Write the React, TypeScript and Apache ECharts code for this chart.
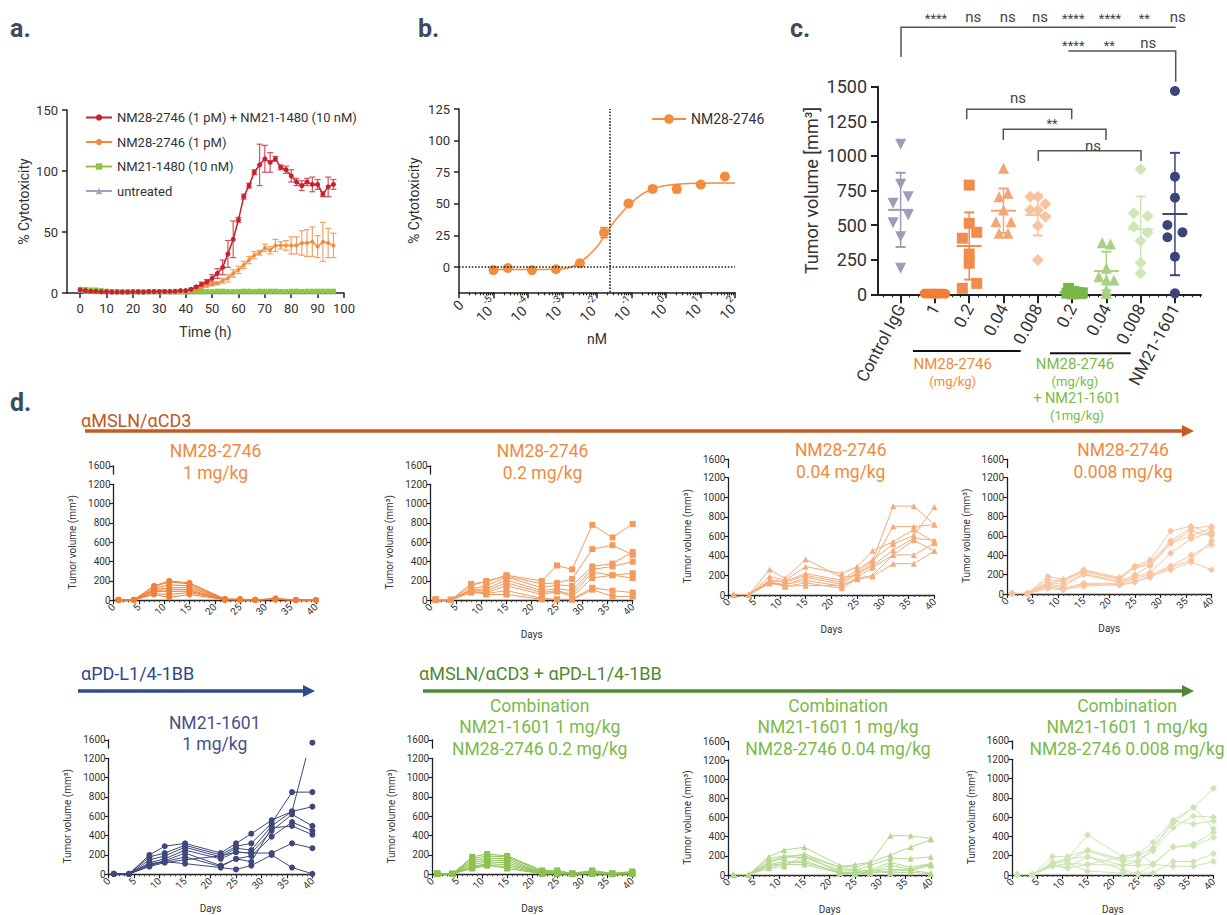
import React, { useEffect, useRef } from "react";
import * as echarts from "echarts";

const FONT = "Roboto, 'Noto Sans', sans-serif";
const INK = "#333333";

// ---------------- a. cytotoxicity time course ----------------
const timeH = [0,2,4,6,8,10,12,14,16,18,20,22,24,26,28,30,32,34,36,38,40,42,44,46,48,50,52,54,56,58,60,62,64,66,68,70,72,74,76,78,80,82,84,86,88,90,92,94,96];
const timeTicks = [0,10,20,30,40,50,60,70,80,90,100];
const comboCyto = [2.5,2,1.5,1.5,1,1,0.8,0.8,0.8,0.8,1,1,0.8,1.2,1.2,1.2,1.3,1.3,1.5,2,2,3,5,7,9,12,16,21,32,44,60,79,88,99,105,110,107,110,103,101,96,91,88,91,89,89,81,87,89];
const comboErr = [0,0,0,0,0,0,0,0,0,0,0,0,0,0,0,0,0,0,0,0,0,1,1,2,2,3,4,6,11,15,2,2,2,2,17,11,8,2,2,3,5,3,4,3,6,4,2,8,4];
const nm28Cyto = [2,1.5,1.2,1,1,1,0.8,0.8,0.8,0.8,1,1,1,1,1,1,1.2,1.2,1.2,1.5,1.5,2,3,4,6,7,8,10,12,16,19,23,27,31,33,37,35,39,39,39,39,39,41,41,42,38,42,41,39];
const nm28Err = [0,0,0,0,0,0,0,0,0,0,0,0,0,0,0,0,0,0,0,0,0,0,1,1,1,1,1,2,3,3,3,3,3,3,2,3,3,5,3,4,7,7,10,11,12,9,16,12,10];
const nm21Cyto = [3,3,2.5,2.5,2,1.5,1.2,1.2,1,1,1,1,1,1,1,1,1,1,1,1,1,1,1.2,1.2,1.2,1.2,1.5,1.5,1.2,1.2,1.2,1.5,1.5,1.2,1.5,1.5,1.5,1.5,1.2,1.2,1.5,1.5,1.2,1.5,1.5,1.5,1.5,1.5,1.5];
const untreatedCyto = [2,1.5,1.2,1,1,0.8,0.8,0.8,0.8,0.8,0.8,0.8,0.8,0.8,0.8,0.8,0.8,0.8,0.8,0.8,0.8,0.8,0.8,0.8,0.8,0.8,0.8,0.8,0.8,0.8,0.8,0.8,0.8,0.8,0.8,0.8,0.8,0.8,0.8,0.8,0.8,0.8,0.8,0.8,0.8,0.8,0.8,0.8,0.8];
const aNames = ["NM28-2746 (1 pM) + NM21-1480 (10 nM)", "NM28-2746 (1 pM)", "NM21-1480 (10 nM)", "untreated"];

// ---------------- b. dose response ----------------
const doseNM = [1.0e-5, 2.6e-5, 1.3e-4, 6.5e-4, 3.2e-3, 1.6e-2, 8.2e-2, 0.41, 2.05, 10.2, 51];
const doseCyto = [-2.4, -0.8, -2.4, -1.8, 2.9, 27.2, 50.2, 61.8, 61.8, 65.3, 71.6];
const doseErr = [1.5, 0.5, 0.5, 1, 2, 4, 1, 2.5, 3, 1, 0.5];
const fitLogNM = [-5,-4.5,-4,-3.5,-3,-2.75,-2.5,-2.25,-2,-1.75,-1.5,-1.25,-1,-0.75,-0.5,-0.25,0,0.5,1,1.5,2];
const fitCyto = [-2,-2,-2,-1.9,-1.5,0,3.5,9,16,26,36,44,51,56.5,60.5,63,64.5,65.8,66.3,66.5,66.5];
const ec50LogNM = -1.63;
const bDecades = [-6,-5,-4,-3,-2,-1,0,1,2];
const bYTicks = [0,25,50,75,100,125];

// ---------------- c. tumour volume scatter ----------------
const cCategories = ["Control IgG","1","0.2","0.04","0.008","0.2","0.04","0.008","NM21-1601"];
const cValues = [
  [1084, 795, 705, 658, 573, 517, 416, 188],
  [6, 5, 5, 4, 5, 6, 4, 5],
  [789, 513, 448, 405, 291, 224, 79, 43],
  [910, 730, 705, 609, 525, 525, 441, 441],
  [705, 705, 652, 609, 609, 561, 496, 248],
  [43, 20, 12, 10, 8, 6, 5, 3],
  [373, 363, 188, 127, 103, 103, 31, 5],
  [903, 585, 566, 488, 445, 387, 228, 152],
  [1469, 850, 698, 501, 448, 412, 272, 7],
];
const cJitter = [
  [0, 0, 0.22, -0.22, 0.22, -0.22, 0, 0],
  [-0.3, -0.2, -0.1, 0, 0.1, 0.2, 0.3, 0],
  [0, 0, 0.22, -0.2, 0, 0, 0.22, -0.2],
  [0, 0.13, -0.13, 0, -0.22, 0.22, -0.13, 0.13],
  [-0.22, 0, 0.22, -0.22, 0, 0.22, 0, 0],
  [-0.1, 0.05, 0.2, 0.3, -0.15, 0.1, 0.25, 0],
  [-0.12, 0.12, 0, -0.22, 0, 0.22, 0, 0],
  [0, -0.2, 0.2, -0.2, 0.2, 0, 0, 0],
  [0, 0, 0, -0.22, 0.22, -0.22, 0, 0],
];
const cMeans = [610, 5, 349, 604, 573, 15, 168, 470, 580];
const cSDs = [268, 3, 243, 161, 148, 14, 140, 237, 442];
const cColors = ["#9d9cb9", "#f07f35", "#f28c4d", "#f4a574", "#f8c4a0", "#7ab648", "#a9d184", "#cfe6b6", "#3c4579"];
const cSymbols = ["triangle", "circle", "rect", "triangle", "diamond", "rect", "triangle", "diamond", "circle"];

// ---------------- d. individual tumour growth ----------------
const days = [1, 4, 8, 11, 15, 22, 25, 28, 32, 36, 40];
const nm28_1 = [
  [5,5,150,200,180,15,10,5,20,5,3],
  [3,5,140,190,170,10,12,3,15,3,2],
  [5,3,120,160,150,8,8,5,10,3,3],
  [4,4,110,130,130,10,5,3,10,2,2],
  [5,5,100,110,110,5,8,5,12,3,3],
  [3,3,90,90,95,5,5,3,8,2,2],
  [5,4,70,60,80,8,6,4,10,3,3],
  [4,5,60,30,60,6,5,3,12,2,3],
];
const nm28_02 = [
  [10,5,170,190,260,200,360,320,780,650,790],
  [8,5,150,200,250,170,180,220,530,570,470],
  [5,3,120,150,240,130,160,150,350,380,500],
  [5,5,110,120,210,100,120,100,320,350,400],
  [5,3,100,100,180,80,100,60,290,260,280],
  [4,4,90,80,150,60,90,40,230,260,230],
  [5,5,80,70,100,20,10,10,130,100,80],
  [4,3,90,60,60,10,10,5,110,40,40],
];
const nm28_004 = [
  [5,3,150,130,200,130,230,350,910,910,720],
  [3,5,260,170,365,180,200,330,700,700,720],
  [4,3,190,150,290,220,290,453,545,670,540],
  [5,4,150,140,220,150,260,360,520,610,900],
  [3,3,135,100,180,110,220,300,460,580,560],
  [4,4,120,110,150,90,180,280,410,560,450],
  [5,3,140,85,125,68,170,200,410,410,530],
  [3,5,120,90,95,100,160,190,320,320,450],
];
const nm28_0008 = [
  [10,5,180,150,250,170,290,350,650,700,620],
  [5,8,150,130,230,150,280,320,550,680,700],
  [5,5,120,100,210,130,200,290,520,600,680],
  [4,5,100,80,200,120,180,220,420,570,640],
  [5,4,90,60,110,110,160,200,290,400,510],
  [4,5,70,50,80,100,130,170,280,350,550],
  [5,3,60,40,100,90,120,190,250,330,250],
  [3,4,110,145,240,160,270,300,530,650,600],
];
const nm21_1 = [
  [5,5,200,290,320,220,320,420,560,650,1460],
  [3,4,180,220,300,200,290,320,530,850,850],
  [5,3,150,190,280,180,270,250,500,650,700],
  [4,5,120,160,250,160,230,220,450,620,500],
  [5,4,100,140,220,90,160,190,390,540,450],
  [3,5,90,130,180,80,160,130,480,500,410],
  [4,3,80,120,150,190,230,220,220,320,270],
  [5,4,110,130,110,70,50,90,200,70,5],
];
const combo_02 = [
  [10,5,180,210,190,40,40,10,40,10,30],
  [8,5,160,190,180,30,30,8,30,8,20],
  [5,3,140,170,160,20,20,5,20,5,15],
  [5,4,120,150,140,15,15,5,15,5,10],
  [4,3,100,130,120,10,10,3,10,3,8],
  [3,3,80,110,100,8,8,3,8,3,5],
  [5,5,60,90,80,5,5,2,5,2,5],
  [4,4,70,100,60,5,5,2,5,2,3],
];
const combo_004 = [
  [5,3,130,180,220,80,110,130,410,410,380],
  [4,5,190,260,290,100,80,130,210,290,370],
  [5,4,170,200,200,80,50,100,170,170,190],
  [3,3,140,190,180,50,50,50,130,80,120],
  [5,4,110,140,130,30,20,30,100,60,110],
  [4,5,90,110,110,20,10,20,40,50,20],
  [3,3,70,90,200,30,30,50,20,30,10],
  [5,4,100,120,150,20,20,40,60,50,100],
];
const combo_0008 = [
  [5,5,130,170,415,190,220,340,570,700,900],
  [4,3,190,190,260,160,210,280,540,700,480],
  [5,5,110,150,250,140,150,250,490,610,600],
  [3,4,120,170,190,100,140,280,560,530,560],
  [5,3,90,120,110,190,220,120,290,320,440],
  [4,5,100,70,110,100,100,110,290,300,390],
  [3,4,90,120,40,20,20,20,140,140,220],
  [5,5,100,80,190,50,10,110,90,90,140],
];

function errBars(color: string, cap: number, lw: number) {
  return (_p: any, api: any) => {
    const x = api.value(0), y = api.value(1), e = api.value(2);
    if (!e) return null;
    const t = api.coord([x, y + e]);
    const b = api.coord([x, y - e]);
    const st = { stroke: color, lineWidth: lw };
    return {
      type: "group",
      children: [
        { type: "line", shape: { x1: t[0], y1: t[1], x2: b[0], y2: b[1] }, style: st },
        { type: "line", shape: { x1: t[0] - cap, y1: t[1], x2: t[0] + cap, y2: t[1] }, style: st },
        { type: "line", shape: { x1: b[0] - cap, y1: b[1], x2: b[0] + cap, y2: b[1] }, style: st },
      ],
    };
  };
}

function txt(text: string, x: number, y: number, size: number, color: string, align = "center", weight = "normal") {
  return {
    type: "text", x, y, silent: true, z: 100,
    style: { text, fill: color, font: `${weight} ${size}px ${FONT}`, textAlign: align, textVerticalAlign: "middle" },
  };
}
function pl(points: number[][], color: string, lw: number) {
  return { type: "polyline", silent: true, z: 100, shape: { points }, style: { stroke: color, lineWidth: lw, fill: "none" } };
}
const plain = (v: number) => String(v);

function buildOption() {
  const grid: any[] = [], xAxis: any[] = [], yAxis: any[] = [], series: any[] = [], graphic: any[] = [];
  const add = (g: any, x: any, y: any) => {
    const gi = grid.push(g) - 1;
    x.gridIndex = gi; y.gridIndex = gi;
    const xi = xAxis.push(x) - 1;
    const yi = yAxis.push(y) - 1;
    return { gi, xi, yi };
  };
  const lab = (size: number, extra: any = {}) => ({ fontSize: size, color: INK, fontFamily: FONT, ...extra });
  const axLine = (w: number) => ({ show: true, onZero: false, lineStyle: { color: "#222", width: w } });

  // ---------- a ----------
  const A = add(
    { left: 67, top: 110, width: 277, height: 183 },
    {
      type: "value", min: -5, max: 100, axisLine: axLine(1.5),
      axisTick: { customValues: timeTicks, length: 5, lineStyle: { color: "#222", width: 1.5 } },
      axisLabel: { customValues: timeTicks, ...lab(13), margin: 9 },
      splitLine: { show: false },
      name: "Time (h)", nameLocation: "middle", nameGap: 32, nameTextStyle: lab(14),
    },
    {
      type: "value", min: 0, max: 150, interval: 50, axisLine: axLine(1.5),
      axisTick: { show: true, length: 5, lineStyle: { color: "#222", width: 1.5 } },
      axisLabel: { ...lab(13), margin: 9 }, splitLine: { show: false },
      name: "% Cytotoxicity", nameLocation: "middle", nameGap: 36, nameTextStyle: lab(14),
    }
  );
  const aSets = [
    { name: aNames[3], data: untreatedCyto, color: "#a49fc4", symbol: "triangle", size: 5 },
    { name: aNames[2], data: nm21Cyto, color: "#8dc63f", symbol: "rect", size: 5 },
    { name: aNames[1], data: nm28Cyto, color: "#f28c3f", symbol: "circle", size: 4, err: nm28Err, errColor: "#f6a066" },
    { name: aNames[0], data: comboCyto, color: "#c8202f", symbol: "circle", size: 5, err: comboErr, errColor: "#d6505c" },
  ];
  aSets.forEach((s: any) => {
    if (s.err) {
      series.push({
        type: "custom", xAxisIndex: A.xi, yAxisIndex: A.yi, silent: true, z: 2,
        renderItem: errBars(s.errColor, 3, 1.2),
        data: timeH.map((t, i) => [t, s.data[i], s.err[i]]),
      });
    }
    series.push({
      type: "line", name: s.name, xAxisIndex: A.xi, yAxisIndex: A.yi,
      data: timeH.map((t, i) => [t, s.data[i]]),
      symbol: s.symbol, symbolSize: s.size, showSymbol: true, z: 3,
      lineStyle: { color: s.color, width: 1.5 }, itemStyle: { color: s.color },
    });
  });

  // ---------- b ----------
  const B = add(
    { left: 459, top: 109, width: 276, height: 183.3 },
    {
      type: "value", min: -6, max: 2, interval: 1, axisLine: axLine(1.5), position: "bottom",
      axisTick: { length: 6, lineStyle: { color: "#222", width: 1.5 } },
      axisLabel: {
        rotate: 45, margin: 8, color: INK, fontFamily: FONT,
        formatter: (v: number) => (v === bDecades[0] ? "{b|0}" : `{b|10}{s|${v}}`),
        rich: {
          b: { fontSize: 14, color: INK, fontFamily: FONT, lineHeight: 20, verticalAlign: "bottom" },
          s: { fontSize: 10, color: INK, fontFamily: FONT, lineHeight: 20, verticalAlign: "top" },
        },
      },
      splitLine: { show: false },
      name: "nM", nameLocation: "middle", nameGap: 40, nameTextStyle: lab(14),
    },
    {
      type: "value", min: -20, max: 125, axisLine: axLine(1.5),
      axisTick: { customValues: bYTicks, length: 5, lineStyle: { color: "#222", width: 1.5 } },
      axisLabel: { customValues: bYTicks, ...lab(13), margin: 9 }, splitLine: { show: false },
      name: "% Cytotoxicity", nameLocation: "middle", nameGap: 38, nameTextStyle: lab(14),
    }
  );
  const bMinor: number[] = [];
  bDecades.slice(0, -1).forEach((d) => { for (let k = 2; k <= 9; k++) bMinor.push(d + Math.log10(k)); });
  xAxis.push({
    type: "value", gridIndex: B.gi, min: -6, max: 2, position: "bottom",
    axisLine: { show: false, onZero: false }, axisLabel: { show: false }, splitLine: { show: false },
    axisTick: { customValues: bMinor, length: 3, lineStyle: { color: "#222", width: 1.2 } },
  });
  series.push({
    type: "line", name: "NM28-2746", xAxisIndex: B.xi, yAxisIndex: B.yi,
    data: fitLogNM.map((x, i) => [x, fitCyto[i]]), smooth: 0.4,
    symbol: "circle", symbolSize: 9, showSymbol: false,
    lineStyle: { color: "#f28c3f", width: 1.5 }, itemStyle: { color: "#f28c3f" },
    markLine: {
      silent: true, symbol: "none", label: { show: false },
      lineStyle: { type: "dotted", color: "#222", width: 1.6 },
      data: [{ yAxis: 0 }, { xAxis: ec50LogNM }],
    },
  });
  series.push({
    type: "custom", xAxisIndex: B.xi, yAxisIndex: B.yi, silent: true,
    renderItem: errBars("#f28c3f", 4, 1.5),
    data: doseNM.map((d, i) => [Math.log10(d), doseCyto[i], doseErr[i]]),
  });
  series.push({
    type: "scatter", name: "_bpts", xAxisIndex: B.xi, yAxisIndex: B.yi, symbolSize: 10,
    itemStyle: { color: "#f28c3f", opacity: 1 },
    data: doseNM.map((d, i) => [Math.log10(d), doseCyto[i]]),
  });

  // ---------- c ----------
  const cIdx = cCategories.map((_, i) => i);
  const C = add(
    { left: 878, top: 86.7, width: 323, height: 207.6 },
    {
      type: "value", min: -0.66, max: 8.76, axisLine: axLine(2), position: "bottom",
      axisTick: { customValues: cIdx, length: 9, lineStyle: { color: "#222", width: 2 } },
      axisLabel: { customValues: cIdx, formatter: (v: number) => cCategories[Math.round(v)], rotate: 62, ...lab(17), margin: 11 },
      splitLine: { show: false },
    },
    {
      type: "value", min: 0, max: 1500, interval: 250, axisLine: axLine(2),
      axisTick: { length: 7, lineStyle: { color: "#222", width: 2 } },
      axisLabel: { ...lab(18), margin: 11, formatter: plain }, splitLine: { show: false },
      name: "Tumor volume [mm³]", nameLocation: "middle", nameGap: 58, nameTextStyle: lab(18),
    }
  );
  const cMinor: number[] = [];
  for (let v = -0.5; v <= 8.76; v += 0.25) cMinor.push(v);
  xAxis.push({
    type: "value", gridIndex: C.gi, min: -0.66, max: 8.76, position: "bottom",
    axisLine: { show: false, onZero: false }, axisLabel: { show: false }, splitLine: { show: false },
    axisTick: { customValues: cMinor, length: 3, lineStyle: { color: "#222", width: 1.2 } },
  });
  cValues.forEach((vals, gi) => {
    series.push({
      type: "scatter", name: "_c" + gi, xAxisIndex: C.xi, yAxisIndex: C.yi,
      symbol: cSymbols[gi], symbolSize: cSymbols[gi] === "diamond" ? 12 : cSymbols[gi] === "circle" ? 10 : 11,
      symbolRotate: gi === 0 ? 180 : 0,
      itemStyle: { color: cColors[gi], opacity: 1 },
      data: vals.map((v, k) => [gi + cJitter[gi][k], v]),
    });
  });
  series.push({
    type: "custom", xAxisIndex: C.xi, yAxisIndex: C.yi, silent: true, z: 5,
    renderItem: (_p: any, api: any) => {
      const i = api.value(3);
      const m = api.coord([api.value(0), api.value(1)]);
      const t = api.coord([api.value(0), api.value(1) + api.value(2)]);
      const b = api.coord([api.value(0), api.value(1) - api.value(2)]);
      const st = { stroke: cColors[i], lineWidth: 2 };
      return {
        type: "group",
        children: [
          { type: "line", shape: { x1: m[0] - 12.5, y1: m[1], x2: m[0] + 12.5, y2: m[1] }, style: st },
          { type: "line", shape: { x1: t[0], y1: t[1], x2: b[0], y2: b[1] }, style: { stroke: cColors[i], lineWidth: 1.5 } },
          { type: "line", shape: { x1: t[0] - 5, y1: t[1], x2: t[0] + 5, y2: t[1] }, style: st },
          { type: "line", shape: { x1: b[0] - 5, y1: b[1], x2: b[0] + 5, y2: b[1] }, style: st },
        ],
      };
    },
    data: cMeans.map((m, i) => [i, m, cSDs[i], i]),
  });

  // ---------- d ----------
  const small = [
    { mice: nm28_1, color: "#f07f35", symbol: "circle", left: 113.5, top: 484.3, width: 202.5, height: 116, daysName: false },
    { mice: nm28_02, color: "#f39a5e", symbol: "rect", left: 430.7, top: 484.3, width: 202, height: 116, daysName: true },
    { mice: nm28_004, color: "#f5aa7a", symbol: "triangle", left: 728.4, top: 477.7, width: 206, height: 117.3, daysName: true },
    { mice: nm28_0008, color: "#f8c4a0", symbol: "diamond", left: 1007, top: 477.7, width: 204.5, height: 116.3, daysName: true },
    { mice: nm21_1, color: "#3f477c", symbol: "circle", left: 108.7, top: 758.3, width: 203.7, height: 116, daysName: true },
    { mice: combo_02, color: "#8cc152", symbol: "rect", left: 432.2, top: 758.3, width: 200, height: 116, daysName: true },
    { mice: combo_004, color: "#b4d78f", symbol: "triangle", left: 728.4, top: 760, width: 202.5, height: 116.7, daysName: true },
    { mice: combo_0008, color: "#cde4b4", symbol: "diamond", left: 1012.2, top: 759.3, width: 201.3, height: 115.7, daysName: true },
  ];
  small.forEach((p) => {
    const M = add(
      { left: p.left, top: p.top, width: p.width, height: p.height },
      {
        type: "value", min: 0, max: 40, interval: 5, axisLine: axLine(1.3),
        axisTick: { length: 4, lineStyle: { color: "#222", width: 1.2 } },
        minorTick: { show: true, splitNumber: 5, length: 2, lineStyle: { color: "#444", width: 1 } },
        axisLabel: { rotate: 45, ...lab(10), margin: 5 }, splitLine: { show: false },
        name: p.daysName ? "Days" : "", nameLocation: "middle", nameGap: 29, nameTextStyle: lab(10),
      },
      {
        type: "value", min: 0, max: 1200, interval: 200, axisLine: axLine(1.3),
        axisTick: { length: 4, lineStyle: { color: "#222", width: 1.2 } },
        axisLabel: { ...lab(10), margin: 3, formatter: plain }, splitLine: { show: false },
        name: "Tumor volume (mm³)", nameLocation: "middle", nameGap: 36, nameTextStyle: lab(10),
      }
    );
    const U = add(
      { left: p.left, top: p.top - 18.5, width: p.width, height: 8.3 },
      { type: "value", min: 0, max: 40, show: false },
      {
        type: "value", min: 1200, max: 1600, interval: 400, axisLine: axLine(1.3),
        axisTick: { length: 4, lineStyle: { color: "#222", width: 1.2 } },
        axisLabel: { ...lab(10), margin: 3, formatter: plain }, splitLine: { show: false },
      }
    );
    p.mice.forEach((m, k) => {
      series.push({
        type: "line", name: "_m" + k, xAxisIndex: M.xi, yAxisIndex: M.yi, clip: true,
        data: days.map((d, i) => [d, m[i]]),
        symbol: p.symbol, symbolSize: p.symbol === "diamond" ? 7 : 6, showSymbol: true, silent: true,
        lineStyle: { color: p.color, width: 1 }, itemStyle: { color: p.color },
      });
      const over = days.map((d, i) => [d, m[i]]).filter((pt) => pt[1] > 1200);
      if (over.length) {
        series.push({
          type: "scatter", name: "_o" + k, xAxisIndex: U.xi, yAxisIndex: U.yi, silent: true,
          symbol: p.symbol, symbolSize: 6, itemStyle: { color: p.color, opacity: 1 }, data: over,
        });
      }
    });
  });

  // ---------- graphics ----------
  const LETTER = "#3e4b5e";
  graphic.push(txt("a.", 10, 28, 25, LETTER, "left", "bold"));
  graphic.push(txt("b.", 418, 28, 25, LETTER, "left", "bold"));
  graphic.push(txt("c.", 790, 28, 25, LETTER, "left", "bold"));
  graphic.push(txt("d.", 10, 402, 25, LETTER, "left", "bold"));

  // c significance
  const SG = "#555";
  graphic.push(pl([[901, 57], [901, 27.3], [1175.7, 27.3]], SG, 1.5));
  graphic.push(pl([[1068.3, 51], [1175.7, 51], [1175.7, 81.7]], SG, 1.5));
  graphic.push(pl([[966.7, 119.3], [966.7, 109.3], [1071.7, 109.3], [1071.7, 119.3]], SG, 1.5));
  graphic.push(pl([[1003.3, 140], [1003.3, 129.3], [1106, 129.3], [1106, 140]], SG, 1.5));
  graphic.push(pl([[1038.3, 161], [1038.3, 150.7], [1141, 150.7], [1141, 161]], SG, 1.5));
  const stars1 = ["****", "ns", "ns", "ns", "****", "****", "**", "ns"];
  const stars1X = [936, 973.3, 1007.7, 1040, 1073.3, 1110, 1144.3, 1177.7];
  stars1.forEach((s, i) => graphic.push(txt(s, stars1X[i], s === "ns" ? 17 : 18, s === "ns" ? 15 : 13, "#444")));
  const stars2 = ["****", "**", "ns"];
  const stars2X = [1073.3, 1109.3, 1148.3];
  stars2.forEach((s, i) => graphic.push(txt(s, stars2X[i], s === "ns" ? 43 : 45, s === "ns" ? 15 : 13, "#444")));
  graphic.push(txt("ns", 1018, 98, 15, "#444"));
  graphic.push(txt("**", 1052, 123, 13, "#444"));
  graphic.push(txt("ns", 1093, 146, 15, "#444"));
  // c group labels
  graphic.push(pl([[913, 351], [1020.7, 351]], "#111", 2));
  graphic.push(pl([[1050, 353.3], [1130.7, 353.3]], "#111", 2));
  graphic.push(txt("NM28-2746", 952.7, 364, 15, "#f08a3e"));
  graphic.push(txt("(mg/kg)", 952.7, 381, 13, "#f08a3e"));
  graphic.push(txt("NM28-2746", 1075, 364, 15, "#7cbb48"));
  graphic.push(txt("(mg/kg)", 1075, 381, 13, "#7cbb48"));
  graphic.push(txt("+ NM21-1601", 1077, 398, 14.5, "#7cbb48"));
  graphic.push(txt("(1mg/kg)", 1077, 415, 13, "#7cbb48"));

  // d headers & arrows
  const arrow = (x1: number, x2: number, y: number, color: string) => {
    graphic.push({ type: "line", silent: true, shape: { x1, y1: y, x2: x2 - 10, y2: y }, style: { stroke: color, lineWidth: 3.5 } });
    graphic.push({ type: "polygon", silent: true, shape: { points: [[x2 - 12, y - 6], [x2, y], [x2 - 12, y + 6]] }, style: { fill: color } });
  };
  graphic.push(txt("αMSLN/αCD3", 81, 420, 18, "#c0571f", "left"));
  arrow(85, 1194, 431, "#c55a22");
  graphic.push(txt("αPD-L1/4-1BB", 81, 673, 18, "#2d478c", "left"));
  arrow(78, 315, 691, "#2d4b93");
  graphic.push(txt("αMSLN/αCD3 + αPD-L1/4-1BB", 419, 673, 18, "#4f8a32", "left"));
  arrow(423, 1194, 691, "#4f8a32");

  const titles = [
    { x: 215.5, y: 451, lines: ["NM28-2746", "1 mg/kg"], color: "#f08a3e" },
    { x: 542.5, y: 451, lines: ["NM28-2746", "0.2 mg/kg"], color: "#f08a3e" },
    { x: 840.7, y: 450, lines: ["NM28-2746", "0.04 mg/kg"], color: "#f08a3e" },
    { x: 1123, y: 450, lines: ["NM28-2746", "0.008 mg/kg"], color: "#f08a3e" },
    { x: 214.7, y: 722.7, lines: ["NM21-1601", "1 mg/kg"], color: "#4a5088" },
    { x: 539.7, y: 705.7, lines: ["Combination", "NM21-1601 1 mg/kg", "NM28-2746 0.2 mg/kg"], color: "#7cb94b" },
    { x: 838, y: 705.7, lines: ["Combination", "NM21-1601 1 mg/kg", "NM28-2746 0.04 mg/kg"], color: "#7cb94b" },
    { x: 1127, y: 705.7, lines: ["Combination", "NM21-1601 1 mg/kg", "NM28-2746 0.008 mg/kg"], color: "#7cb94b" },
  ];
  titles.forEach((t) => t.lines.forEach((l, i) => graphic.push(txt(l, t.x, t.y + i * 21.6, 17.5, t.color))));

  return {
    animation: false,
    backgroundColor: "#ffffff",
    textStyle: { fontFamily: FONT },
    grid, xAxis, yAxis, series, graphic,
    legend: [
      {
        data: aNames, orient: "vertical", left: 80, top: 106, itemGap: 11.5, itemWidth: 26, itemHeight: 8,
        selectedMode: false, textStyle: { fontSize: 13, color: INK, fontFamily: FONT },
      },
      {
        data: ["NM28-2746"], orient: "vertical", left: 646, top: 107, itemWidth: 34, itemHeight: 12,
        selectedMode: false, textStyle: { fontSize: 14, color: INK, fontFamily: FONT },
      },
    ],
  };
}

export default function App() {
  const ref = useRef<HTMLDivElement>(null);
  useEffect(() => {
    const chart = echarts.init(ref.current!, null, { renderer: "svg" });
    chart.setOption(buildOption() as any);
    return () => chart.dispose();
  }, []);
  return (
    <div
      ref={ref}
      style={{ position: "absolute", left: 0, top: 0, width: 1227, height: 915, background: "#fff" }}
    />
  );
}
